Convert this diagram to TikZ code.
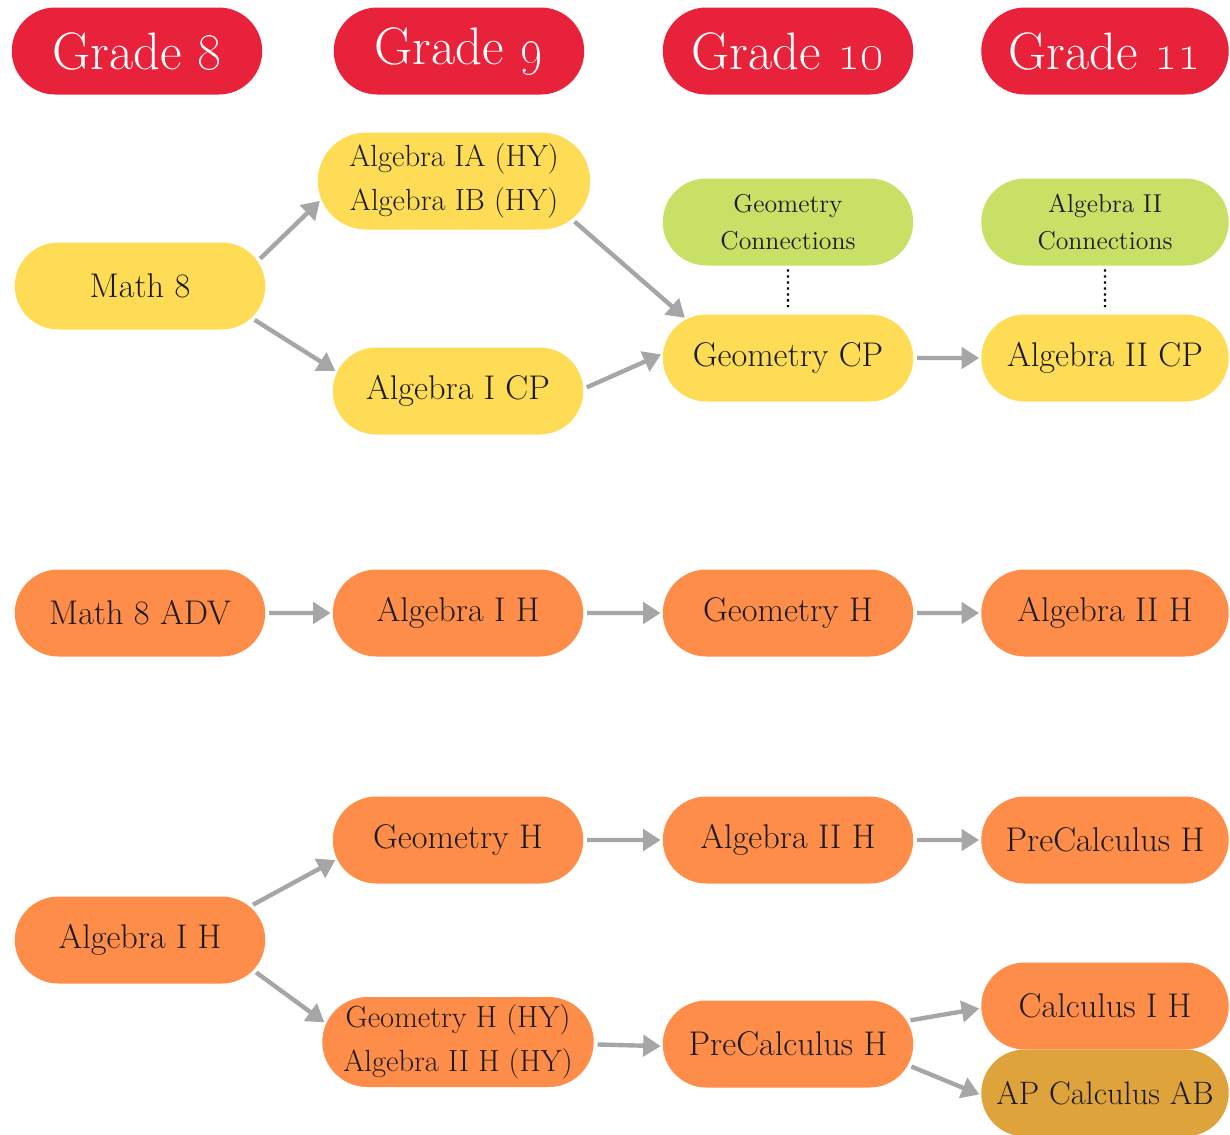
\documentclass[tikz,border=0pt]{standalone}
\usepackage{tikz}
\usetikzlibrary{arrows.meta}
\usetikzlibrary{shapes.misc}
\definecolor{gradered}{HTML}{E8223A}
\definecolor{cpyellow}{HTML}{FEDC56}
\definecolor{conngreen}{HTML}{C8E066}
\definecolor{honorange}{HTML}{FF8D4A}
\definecolor{apgold}{HTML}{DFA33B}
\definecolor{linkgray}{HTML}{A6A6A6}
\definecolor{inktext}{HTML}{1A1A1A}
\begin{document}
\begin{tikzpicture}[x=0.02cm,y=-0.02cm,
	pill/.style={rounded rectangle,minimum width=5.08cm,minimum height=1.74cm,inner sep=1pt,align=center,text=inktext,font=\fontsize{19.5}{23}\selectfont},
	grade/.style={pill,fill=gradered,text=white,font=\fontsize{30}{34}\selectfont},
	cp/.style={pill,fill=cpyellow},
	conn/.style={pill,fill=conngreen,font=\fontsize{14.7}{21}\selectfont},
	hon/.style={pill,fill=honorange},
	ap/.style={pill,fill=apgold,font=\fontsize{18.5}{22}\selectfont},
	half/.style={font=\fontsize{17.4}{25}\selectfont},
	link/.style={draw=linkgray,line width=2.5pt,shorten <=2pt,shorten >=1pt,-{Triangle[length=10pt,width=12pt]}},
	tie/.style={draw=black,line width=1.3pt,dash pattern=on 1.3pt off 2.1pt,shorten <=2pt,shorten >=4pt}]
	\useasboundingbox (0,0) rectangle (1230,1134);
	% grade headers
	\node[grade] (g8) at (137,51) {Grade \oldstylenums{8}};
	\node[grade] (g9) at (459,51) {Grade \oldstylenums{9}};
	\node[grade] (g10) at (788,51) {Grade \oldstylenums{10}};
	\node[grade,minimum width=5.02cm] (g11) at (1105,51) {Grade \oldstylenums{11}};
	% college prep track
	\node[cp] (m8) at (140,286) {Math 8};
	\node[cp,half,minimum width=5.52cm,minimum height=1.94cm] (aIA) at (454,181) {Algebra IA (HY)\\Algebra IB (HY)};
	\node[cp] (aICP) at (458,391) {Algebra I CP};
	\node[cp] (gCP) at (788,358) {Geometry CP};
	\node[cp,minimum width=5.02cm] (aIICP) at (1105,358) {Algebra II CP};
	\node[conn] (gConn) at (788,222) {Geometry\\Connections};
	\node[conn,minimum width=5.02cm] (aConn) at (1105,222) {Algebra II\\Connections};
	\draw[link] (m8.12) -- (aIA.188);
	\draw[link] (m8.344) -- (aICP.171);
	\draw[link] (aIA.342) -- (gCP.159);
	\draw[link] (aICP.1) -- (gCP.178);
	\draw[link] (gCP) -- (aIICP);
	\draw[tie] (gConn) -- (gCP);
	\draw[tie] (aConn) -- (aIICP);
	% advanced track
	\node[hon] (m8a) at (140,613) {Math 8 ADV};
	\node[hon] (aIH) at (458,613) {Algebra I H};
	\node[hon] (gH) at (788,613) {Geometry H};
	\node[hon,minimum width=5.02cm] (aIIH) at (1105,613) {Algebra II H};
	\draw[link] (m8a) -- (aIH);
	\draw[link] (aIH) -- (gH);
	\draw[link] (gH) -- (aIIH);
	% honors track
	\node[hon] (aIHb) at (140,940) {Algebra I H};
	\node[hon] (gHb) at (458,840) {Geometry H};
	\node[hon] (aIIHb) at (788,840) {Algebra II H};
	\node[hon,minimum width=5.02cm] (pcHb) at (1105,840) {PreCalculus H};
	\node[hon,half,minimum width=5.5cm,minimum height=1.8cm] (hy) at (458,1042) {Geometry H (HY)\\Algebra II H (HY)};
	\node[hon] (pcH) at (788,1044) {PreCalculus H};
	\node[hon,minimum width=5.02cm] (cIH) at (1105,1006) {Calculus I H};
	\node[ap,minimum width=5.02cm] (apAB) at (1105,1093) {AP Calculus AB};
	\draw[link] (gHb) -- (aIIHb);
	\draw[link] (aIIHb) -- (pcHb);
	\draw[link] (aIHb.17) -- (gHb.189);
	\draw[link] (aIHb.345) -- (hy.172);
	\draw[link] (hy.359) -- (pcH.181);
	\draw[link] (pcH.11) -- (cIH.181);
	\draw[link] (pcH.350) -- (apAB.181);
\end{tikzpicture}
\end{document}
